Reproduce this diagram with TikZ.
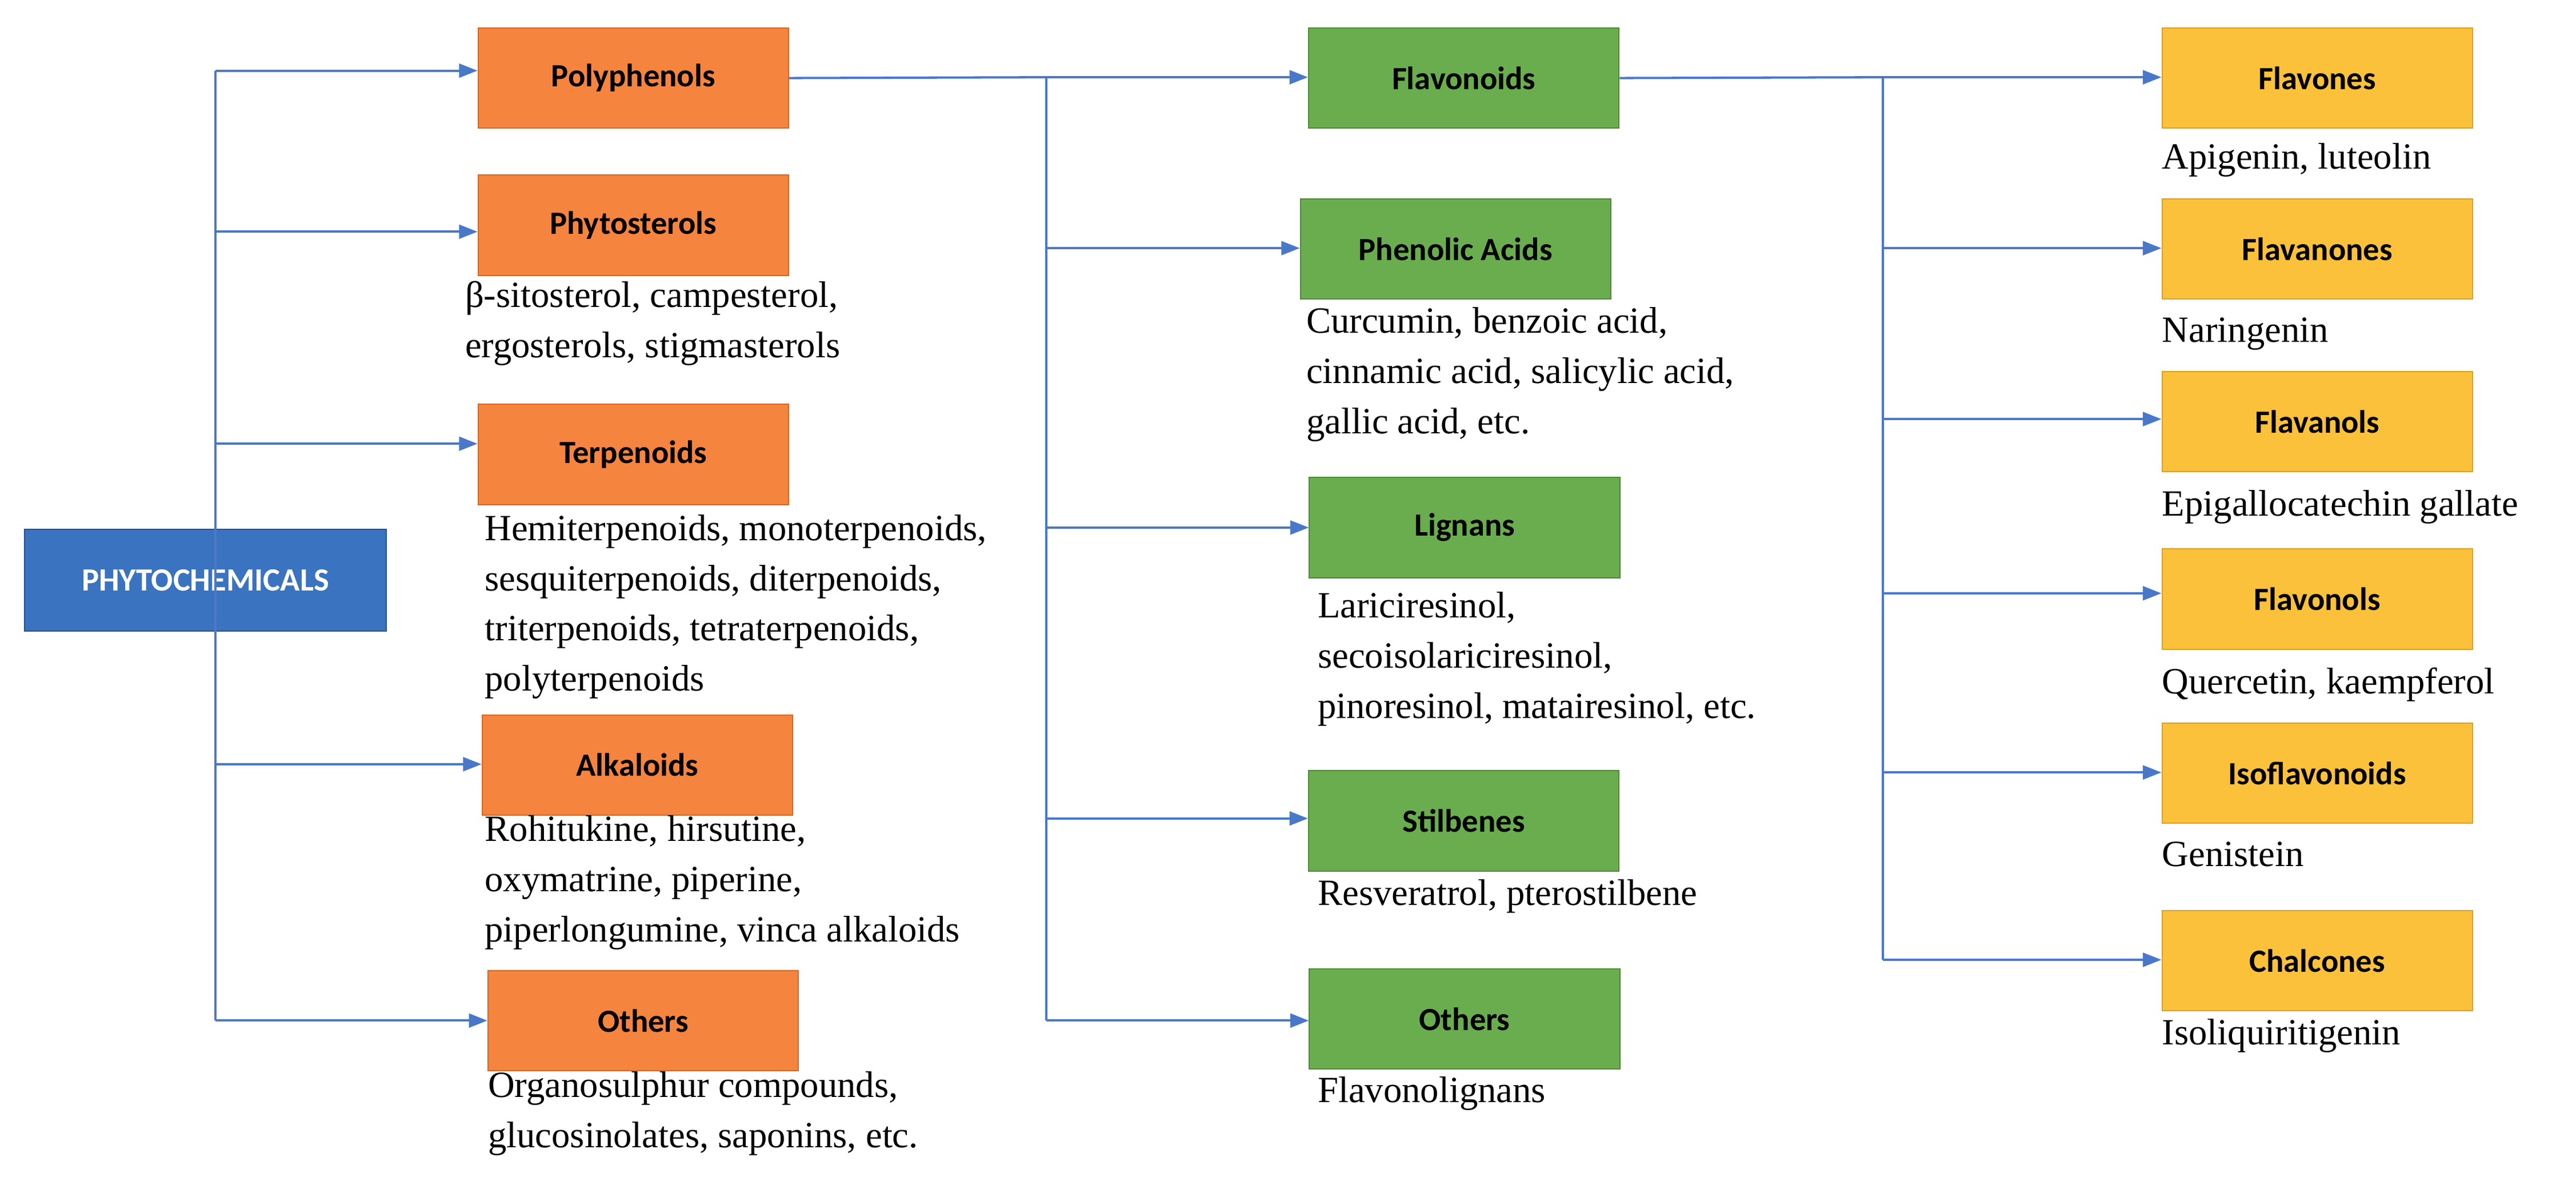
\documentclass[tikz,border=0pt]{standalone}
\usepackage{fontspec}
\setmainfont{Liberation Serif}
\newfontfamily\boxfont{Carlito}
\usetikzlibrary{arrows.meta}
\definecolor{blueC}{HTML}{3A73C0}
\definecolor{orangeC}{HTML}{F5843F}
\definecolor{orangeD}{HTML}{D06A2A}
\definecolor{greenC}{HTML}{6AAD4F}
\definecolor{greenD}{HTML}{4E8A37}
\definecolor{yellowC}{HTML}{FCC13B}
\definecolor{yellowD}{HTML}{D9A020}
\definecolor{lineC}{HTML}{4A78C8}
\tikzset{
 bx/.style={draw, line width=1pt, minimum width=9.45cm, minimum height=3.05cm, font=\boxfont\fontsize{28}{32}\selectfont\bfseries, text=black, inner sep=0},
 ob/.style={bx, fill=orangeC, draw=orangeD},
 gb/.style={bx, fill=greenC, draw=greenD},
 yb/.style={bx, fill=yellowC, draw=yellowD},
 tx/.style={anchor=north west, align=left, inner sep=0, font=\fontsize{32}{43.5}\selectfont},
 ln/.style={draw=lineC, line width=2pt},
 ar/.style={ln, -{Triangle[length=16pt,width=12pt]}}
}
\begin{document}
\begin{tikzpicture}[x=0.05cm,y=-0.05cm]
\useasboundingbox (0,0) rectangle (1568,721);
% root
\node[bx, fill=blueC, draw=blueC!70!black, text=white, minimum width=11cm, minimum height=3.1cm] (root) at (125,353) {PHYTOCHEMICALS};
% level 1
\node[ob] (poly) at (385.5,47.5) {Polyphenols};
\node[ob] (ster) at (385.5,137) {Phytosterols};
\node[ob] (terp) at (385.5,276.5) {Terpenoids};
\node[ob] (alka) at (388,465.5) {Alkaloids};
\node[ob] (oth1) at (391.5,621) {Others};
\node[tx] (tster) at (283,171) {β-sitosterol, campesterol,\\ergosterols, stigmasterols};
\node[tx] (tterp) at (295,313) {Hemiterpenoids, monoterpenoids,\\sesquiterpenoids, diterpenoids,\\triterpenoids, tetraterpenoids,\\polyterpenoids};
\node[tx] (talka) at (295,496) {Rohitukine, hirsutine,\\oxymatrine, piperine,\\piperlongumine, vinca alkaloids};
\node[tx] (toth1) at (297,652) {Organosulphur compounds,\\glucosinolates, saponins, etc.};
% level 2
\node[gb] (flav) at (891,47.5) {Flavonoids};
\node[gb] (phen) at (886,151.5) {Phenolic Acids};
\node[gb] (lign) at (891.5,321) {Lignans};
\node[gb] (stil) at (891,499.5) {Stilbenes};
\node[gb] (oth2) at (891.5,620) {Others};
\node[tx] (tphen) at (795,187) {Curcumin, benzoic acid,\\cinnamic acid, salicylic acid,\\gallic acid, etc.};
\node[tx] (tlign) at (802,360) {Lariciresinol,\\secoisolariciresinol,\\pinoresinol, matairesinol, etc.};
\node[tx] (tstil) at (802,535) {Resveratrol, pterostilbene};
\node[tx] (toth2) at (802,655) {Flavonolignans};
% level 3
\node[yb] (fone) at (1410.5,47.5) {Flavones};
\node[yb] (fnon) at (1410.5,151.5) {Flavanones};
\node[yb] (fnol) at (1410.5,256.5) {Flavanols};
\node[yb] (fvol) at (1410.5,364.5) {Flavonols};
\node[yb] (iso) at (1410.5,470.5) {Isoflavonoids};
\node[yb] (chal) at (1410.5,584.5) {Chalcones};
\node[tx] (tfone) at (1316,87) {Apigenin, luteolin};
\node[tx] (tfnon) at (1316,193) {Naringenin};
\node[tx] (tfnol) at (1316,298) {Epigallocatechin gallate};
\node[tx] (tfvol) at (1316,406) {Quercetin, kaempferol};
\node[tx] (tiso) at (1316,512) {Genistein};
\node[tx] (tchal) at (1316,620) {Isoliquiritigenin};
% trunk 1
\coordinate (a0) at (131,43); \coordinate (a1) at (131,141); \coordinate (a2) at (131,270);
\coordinate (a3) at (131,465); \coordinate (a4) at (131,621);
\draw[ln] (a0) -- (a4);
\draw[ar] (a0) -- (poly.west |- a0);
\draw[ar] (a1) -- (ster.west |- a1);
\draw[ar] (a2) -- (terp.west |- a2);
\draw[ar] (a3) -- (alka.west |- a3);
\draw[ar] (a4) -- (oth1.west |- a4);
% trunk 2
\coordinate (b0) at (637,47); \coordinate (b1) at (637,151); \coordinate (b2) at (637,321);
\coordinate (b3) at (637,498); \coordinate (b4) at (637,621);
\draw[ln] (poly.east) -- (b0);
\draw[ln] (b0) -- (b4);
\draw[ar] (b0) -- (flav.west |- b0);
\draw[ar] (b1) -- (phen.west |- b1);
\draw[ar] (b2) -- (lign.west |- b2);
\draw[ar] (b3) -- (stil.west |- b3);
\draw[ar] (b4) -- (oth2.west |- b4);
% trunk 3
\coordinate (c0) at (1146,47); \coordinate (c1) at (1146,151); \coordinate (c2) at (1146,255);
\coordinate (c3) at (1146,361); \coordinate (c4) at (1146,470); \coordinate (c5) at (1146,584);
\draw[ln] (flav.east) -- (c0);
\draw[ln] (c0) -- (c5);
\draw[ar] (c0) -- (fone.west |- c0);
\draw[ar] (c1) -- (fnon.west |- c1);
\draw[ar] (c2) -- (fnol.west |- c2);
\draw[ar] (c3) -- (fvol.west |- c3);
\draw[ar] (c4) -- (iso.west |- c4);
\draw[ar] (c5) -- (chal.west |- c5);
\end{tikzpicture}
\end{document}
